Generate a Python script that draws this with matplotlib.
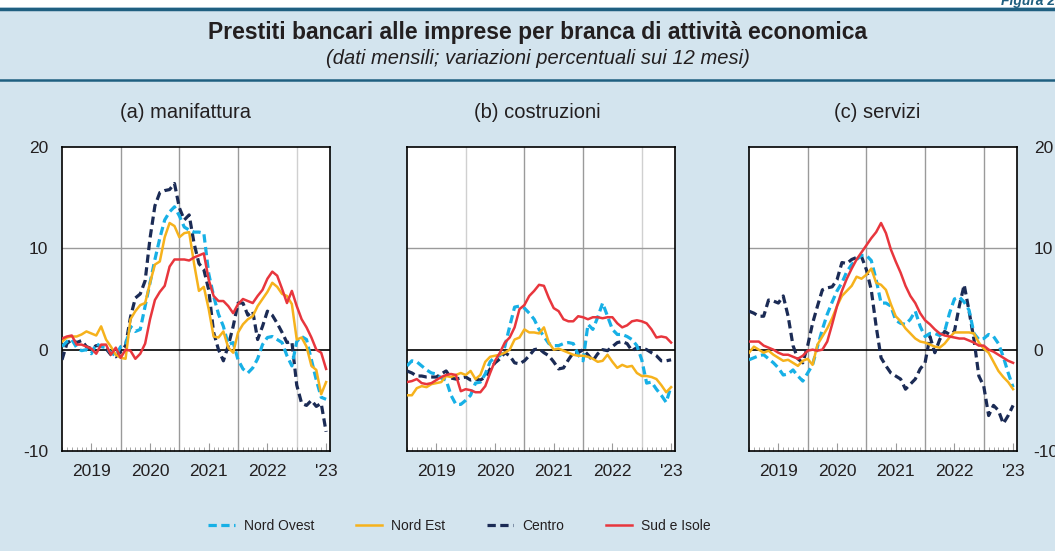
import matplotlib.pyplot as plt
from matplotlib.lines import Line2D
from matplotlib.patches import Rectangle

plt.rcParams['font.family'] = ['Liberation Sans', 'DejaVu Sans']
plt.rcParams['axes.unicode_minus'] = False

# mesi da gennaio 2019 a luglio 2023
n_months = 55
year_labels = ['2019', '2020', '2021', '2022', "'23"]
series_names = ['Nord Ovest', 'Nord Est', 'Centro', 'Sud e Isole']
panel_titles = ['(a) manifattura', '(b) costruzioni', '(c) servizi']

# (a) manifattura
man_nord_ovest = [0.3, 0.8, 1.0, 0.2, -0.1, 0.0, -0.4, 0.6, 0.3, 0.2, -0.3, -0.6, 0.3, 0.5,
                  2.3, 1.8, 2.0, 4.3, 6.6, 8.9, 11.0, 12.8, 13.6, 14.1, 13.2, 12.1, 11.8, 11.6,
                  11.6, 11.5, 7.5, 5.3, 3.5, 2.3, 0.5, 0.7, -1.0, -1.9, -2.3, -1.8, -0.9, 0.5,
                  1.2, 1.3, 1.0, 0.7, -0.6, -1.6, 0.8, 1.3, 1.0, -1.0, -3.0, -4.7, -4.9]
man_nord_est = [0.8, 1.2, 1.3, 1.3, 1.5, 1.8, 1.6, 1.4, 2.3, 1.0, 0.3, -0.5, -0.8, -0.9,
                3.0, 3.8, 4.4, 4.6, 6.6, 8.4, 8.7, 11.1, 12.5, 12.2, 11.1, 11.5, 11.6, 8.5,
                5.8, 6.2, 4.0, 1.3, 1.2, 1.8, 0.2, -0.3, 1.7, 2.5, 3.0, 3.3, 4.3, 5.0,
                5.7, 6.6, 6.2, 5.5, 5.3, 4.5, 1.0, 1.2, 0.3, -1.6, -2.0, -4.4, -3.2]
man_centro = [-1.0, 0.6, 1.0, 0.7, 0.9, 0.3, 0.1, 0.4, 0.4, 0.1, -0.5, -0.7, -0.2, 0.4,
              3.2, 5.1, 5.5, 6.8, 11.0, 14.2, 15.5, 15.7, 15.8, 16.4, 14.0, 12.8, 13.3, 10.5,
              8.5, 7.9, 5.9, 1.7, 0.0, -1.1, 0.4, 2.3, 4.6, 4.6, 3.4, 3.8, 1.0, 2.3,
              3.8, 3.4, 2.6, 1.7, 0.7, 0.8, -3.5, -5.3, -5.5, -5.0, -5.6, -5.3, -8.1]
man_sud = [1.1, 1.3, 1.4, 0.5, 0.5, 0.3, 0.1, -0.4, 0.5, 0.5, -0.5, 0.2, -0.8, 0.0,
           -0.1, -0.9, -0.4, 0.6, 3.0, 4.9, 5.7, 6.3, 8.2, 8.9, 8.9, 8.9, 8.8, 9.1,
           9.3, 9.5, 6.9, 5.3, 4.8, 4.8, 4.3, 3.6, 4.5, 5.0, 4.8, 4.6, 5.3, 5.9,
           7.0, 7.7, 7.3, 6.0, 4.6, 5.8, 4.3, 3.0, 2.2, 1.2, 0.0, -0.3, -1.9]

# (b) costruzioni
cos_nord_ovest = [-1.6, -1.1, -1.2, -1.6, -2.0, -2.3, -2.4, -2.8, -3.0, -4.5, -5.4, -5.4, -5.0, -4.5,
                  -3.3, -3.2, -2.4, -1.2, -0.7, -0.6, 0.3, 2.3, 4.2, 4.3, 4.1, 3.6, 3.0, 2.0,
                  1.3, 0.6, 0.4, 0.4, 0.6, 0.7, 0.6, -0.5, -1.1, 2.5, 2.0, 3.2, 4.6, 3.3,
                  2.0, 1.5, 1.5, 1.3, 1.0, 0.4, -1.0, -3.3, -3.2, -3.9, -4.5, -5.2, -3.6]
cos_nord_est = [-4.5, -4.5, -3.8, -3.6, -3.7, -3.4, -3.3, -3.2, -2.6, -2.7, -2.5, -2.3, -2.5, -2.1,
                -2.9, -2.5, -1.2, -0.7, -0.6, -0.5, -0.3, 0.0, 1.0, 1.2, 2.0, 1.7, 1.7, 1.6,
                2.2, 0.7, 0.0, 0.1, -0.1, -0.3, -0.5, -0.6, -0.6, -0.7, -0.9, -1.2, -1.1, -0.5,
                -1.2, -1.8, -1.5, -1.7, -1.6, -2.3, -2.6, -2.6, -2.7, -2.9, -3.5, -4.2, -3.7]
cos_centro = [-2.1, -2.3, -2.6, -2.6, -2.7, -2.7, -2.7, -2.4, -2.1, -2.8, -2.9, -2.8, -2.7, -3.0,
              -2.9, -3.0, -2.7, -1.9, -1.3, -0.9, -0.3, -0.6, -1.3, -1.4, -1.1, -0.6, 0.0, 0.1,
              -0.3, -0.6, -1.2, -1.9, -1.8, -1.0, -0.3, -0.3, 0.0, -0.5, -1.1, -0.4, 0.0, -0.1,
              0.3, 0.7, 0.8, 0.6, -0.1, 0.2, 0.2, 0.0, -0.3, -0.6, -1.1, -1.1, -1.0]
cos_sud = [-3.2, -3.1, -2.9, -3.3, -3.4, -3.3, -3.0, -2.7, -2.5, -2.4, -2.5, -4.1, -3.9, -4.0,
           -4.2, -4.2, -3.6, -2.3, -1.1, -0.3, 0.7, 1.2, 2.2, 4.0, 4.4, 5.3, 5.8, 6.4,
           6.3, 5.1, 4.1, 3.8, 3.0, 2.8, 2.8, 3.3, 3.2, 3.0, 3.2, 3.2, 3.1, 3.2,
           3.2, 2.6, 2.2, 2.4, 2.8, 2.9, 2.8, 2.6, 2.0, 1.2, 1.3, 1.2, 0.7]

# (c) servizi
ser_nord_ovest = [-1.0, -0.8, -0.6, -0.5, -0.9, -1.3, -1.8, -2.5, -2.4, -2.0, -2.6, -3.1, -2.3, -1.5,
                  0.3, 2.0, 3.5, 4.7, 5.8, 6.6, 7.7, 8.4, 8.9, 9.3, 9.3, 8.8, 6.9, 4.6,
                  4.6, 4.3, 2.9, 2.6, 2.5, 3.0, 3.8, 2.3, 1.3, 1.6, 1.6, 1.4, 1.8, 3.6,
                  5.0, 5.2, 4.7, 3.9, 1.6, 1.0, 1.1, 1.5, 1.3, 0.6, -0.7, -2.3, -3.7]
ser_nord_est = [-0.3, 0.3, 0.0, -0.3, -0.1, -0.5, -0.8, -1.1, -1.0, -1.3, -1.6, -1.1, -0.9, -1.5,
                0.5, 1.3, 2.1, 3.1, 4.3, 5.3, 5.8, 6.3, 7.2, 7.0, 7.4, 8.0, 6.6, 6.4,
                5.9, 4.5, 3.3, 2.8, 2.1, 1.6, 1.1, 0.8, 0.7, 0.5, 0.3, 0.2, 0.6, 1.2,
                1.7, 1.7, 1.7, 1.7, 1.6, 0.7, 0.1, -0.3, -1.2, -2.1, -2.7, -3.2, -3.9]
ser_centro = [3.8, 3.6, 3.3, 3.3, 4.9, 4.8, 4.6, 5.3, 3.3, 0.4, -0.9, -1.3, 0.4, 2.6,
              4.3, 5.9, 6.1, 6.2, 6.9, 8.6, 8.5, 8.9, 9.1, 9.2, 7.9, 5.9, 2.3, -0.8,
              -1.6, -2.3, -2.6, -2.9, -3.9, -3.4, -2.9, -1.9, -1.3, 1.3, -0.3, 1.0, 1.8, 1.5,
              1.8, 4.3, 6.4, 3.8, 1.0, -2.6, -3.6, -6.5, -5.5, -6.0, -7.3, -6.5, -5.5]
ser_sud = [0.8, 0.8, 0.8, 0.4, 0.2, 0.0, -0.3, -0.5, -0.5, -0.7, -0.9, -0.6, -0.1, 0.0,
           -0.1, 0.0, 0.8, 2.5, 4.3, 5.8, 7.0, 8.0, 8.9, 9.6, 10.3, 11.0, 11.6, 12.5,
           11.5, 9.9, 8.7, 7.6, 6.3, 5.3, 4.6, 3.6, 2.9, 2.5, 2.0, 1.6, 1.4, 1.3,
           1.2, 1.1, 1.1, 0.9, 0.7, 0.4, 0.4, 0.0, -0.2, -0.5, -0.8, -1.1, -1.3]

panels = [
    [man_nord_ovest, man_nord_est, man_centro, man_sud],
    [cos_nord_ovest, cos_nord_est, cos_centro, cos_sud],
    [ser_nord_ovest, ser_nord_est, ser_centro, ser_sud],
]

bg = '#d3e4ee'
teal = '#1f5f80'
colors = ['#17b0e6', '#f6b21c', '#1b2b55', '#e8363d']
dashed = [True, False, True, False]
widths = [2.3, 1.8, 2.3, 1.8]

fig = plt.figure(figsize=(10.55, 5.51), dpi=100, facecolor=bg)

# fascia bianca in alto e linee del riquadro
fig.patches.append(Rectangle((0, 1 - 7 / 551), 1, 7 / 551, transform=fig.transFigure,
                             facecolor='white', edgecolor='none', zorder=0))
fig.add_artist(Line2D([0, 1], [1 - 8.5 / 551] * 2, color=teal, lw=2.5))
fig.add_artist(Line2D([0, 1], [1 - 80 / 551] * 2, color=teal, lw=1.8))
fig.text(1.0, 1 - 1 / 551, 'Figura 2', ha='right', va='center', color=teal,
         fontsize=10, fontweight='bold', fontstyle='italic')

fig.text(0.51, 1 - 32 / 551, 'Prestiti bancari alle imprese per branca di attività economica',
         ha='center', va='center', fontsize=16.5, fontweight='bold', color='#231f20')
fig.text(0.51, 1 - 58 / 551, '(dati mensili; variazioni percentuali sui 12 mesi)',
         ha='center', va='center', fontsize=14.5, fontstyle='italic', color='#231f20')

lefts = [62, 407, 749]
title_x = [185, 537, 877]
light_grid = [[48], [12, 48], []]
months = list(range(n_months))

for k, ax_left in enumerate(lefts):
    ax = fig.add_axes([ax_left / 1055, 1 - 451 / 551, 268 / 1055, 304 / 551])
    ax.set_facecolor('white')
    ax.set_xlim(0, 54.8)
    ax.set_ylim(-10, 20)
    for xg in [12, 24, 36, 48]:
        c = '#d0d0d0' if xg in light_grid[k] else '#9a9a9a'
        ax.axvline(xg, color=c, lw=1.0, zorder=1)
    ax.axhline(10, color='#9a9a9a', lw=1.0, zorder=1)
    ax.axhline(0, color='black', lw=1.2, zorder=2)

    # disegna in ordine: Centro sotto, poi gli altri
    for j in [2, 0, 1, 3]:
        vals = panels[k][j]
        if dashed[j]:
            ax.plot(months, vals, color=colors[j], lw=widths[j], dashes=(2.6, 1.4), zorder=3)
        else:
            ax.plot(months, vals, color=colors[j], lw=widths[j], zorder=3)

    ax.set_xticks([6, 18, 30, 42, 54])
    ax.set_xticklabels(year_labels)
    ax.set_xticks(months, minor=True)
    ax.tick_params(axis='x', which='major', direction='in', length=6, color='#9a9a9a',
                   labelsize=12.5, pad=9, labelcolor='#231f20')
    ax.tick_params(axis='x', which='minor', direction='in', length=3, color='#9a9a9a')

    ax.set_yticks([-10, 0, 10, 20])
    if k == 0:
        ax.tick_params(axis='y', length=0, labelsize=12.5, pad=10, labelcolor='#231f20')
    elif k == 2:
        ax.yaxis.tick_right()
        ax.tick_params(axis='y', length=0, labelsize=12.5, pad=12, labelcolor='#231f20')
    else:
        ax.tick_params(axis='y', length=0, labelleft=False)

    for s in ax.spines.values():
        s.set_color('black')
        s.set_linewidth(1.2)

    fig.text(title_x[k] / 1055, 1 - 112 / 551, panel_titles[k], ha='center', va='center',
             fontsize=14.5, color='#231f20')

handles = []
for j in range(4):
    if dashed[j]:
        h = Line2D([], [], color=colors[j], lw=widths[j], dashes=(2.6, 1.4))
    else:
        h = Line2D([], [], color=colors[j], lw=widths[j])
    handles.append(h)

fig.legend(handles, series_names, loc='center', bbox_to_anchor=(0.4356, 1 - 526 / 551),
           ncol=4, frameon=False, fontsize=10, handlelength=1.9, handletextpad=0.65,
           columnspacing=3.0, labelcolor='#231f20')

fig.savefig('out.png', dpi=100, facecolor=bg)
